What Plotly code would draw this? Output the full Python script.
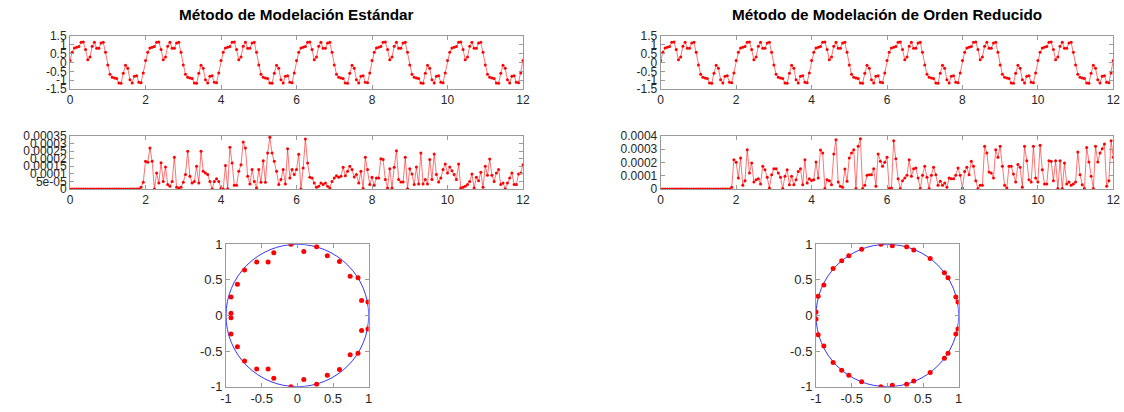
import numpy as np
import plotly.graph_objects as go

# ---------------------------------------------------------------- data
sample_period = 2 / 34          # 34 samples per period of the input wave
n_samples = 205                 # t = 0 ... 12

# one period of the periodic input signal (repeats every 2 s)
wave_period = [0.12, 0.58, 0.82, 0.86, 0.90, 1.14, 1.16, 0.73, 0.16, 0.31,
               0.92, 1.14, 0.80, 0.80, 1.10, 1.14, 0.58,
               -0.14, -0.67, -0.84, -0.88, -0.90, -1.16, -1.18, -0.61, -0.16,
               -0.33, -0.97, -1.16, -0.78, -0.75, -1.12, -1.14, -0.59]

# modelling error, standard method (units of 1e-5)
err_std_e5 = [0.0] * 32 + [
    1.1, 4.4, 18.3, 17.6, 27.0, 18.3, 0.0, 10.6, 4.0, 17.4,
    5.0, 14.5, 2.9, 1.8, 5.0, 21.0, 1.1, 0.7, 1.1, 4.4,
    9.5, 24.9, 8.4, 4.0, 5.0, 15.0, 4.0, 24.9, 11.7, 10.6,
    9.5, 5.0, 0.0, 5.0, 6.8, 5.0, 0.7, 0.0, 15.6, 0.2,
    27.5, 17.2, 2.4, 2.4, 11.7, 16.0, 31.0, 27.0, 8.4, 3.3,
    12.8, 5.0, 0.7, 12.8, 4.4, 18.7, 4.4, 23.8, 34.1, 23.8,
    18.3, 11.7, 2.9, 6.2, 12.8, 3.3, 26.6, 7.3, 12.8, 9.5,
    12.8, 23.0, 0.0, 13.9, 33.0, 17.2, 7.7, 7.3, 4.0, 1.1,
    1.8, 4.0, 2.9, 4.0, 1.8,
    0.7, 5.0, 7.3, 8.8, 7.7, 8.4, 14.3, 8.8, 11.7, 15.0,
    12.8, 7.9, 9.5, 4.0, 11.7, 0.4, 20.9, 12.8, 2.9, 7.7,
    2.4, 7.3, 7.3, 20.0, 19.4, 6.2, 0.7, 13.4, 0.7, 14.3,
    25.3, 6.2, 4.6, 4.6, 20.9, 0.2, 13.4, 9.9, 2.9, 14.5,
    3.3, 23.8, 3.3, 6.2, 3.3, 19.4, 6.2, 23.1, 9.5, 4.6,
    7.3, 12.8, 16.5, 10.6, 14.5, 12.1, 9.5, 6.2, 16.5, 0.7,
    1.1, 1.8, 2.9, 5.0, 9.9, 0.7, 7.7, 5.5, 11.0, 1.1,
    15.0, 9.0, 19.8, 9.0, 5.0, 10.6, 12.8, 2.9, 4.0, 0.2,
    4.0, 7.3, 10.6, 2.9, 2.9, 9.9, 10.6, 16.0]

# modelling error, reduced-order method (units of 1e-5)
err_red_e5 = [0.0] * 32 + [
    1.3, 22.1, 20.1, 8.3, 23.4, 2.8, 6.3, 29.7, 12.1, 19.6,
    5.3, 7.0, 7.8, 3.8, 17.1, 14.6, 8.8, 0.8, 10.8, 15.3,
    15.3, 12.1, 8.8, 0.3, 9.6, 14.6, 3.3, 9.6, 3.3, 7.0,
    13.3, 15.3, 3.3, 22.1, 4.5, 7.8, 6.5, 7.0, 20.4, 8.3,
    29.4, 27.2, 0.3, 7.0, 6.3, 3.3, 26.4, 37.2, 5.3, 2.0,
    1.3, 15.1, 5.8, 23.4, 27.2, 29.7, 0.3, 32.2, 38.0, 0.3,
    2.8, 10.3, 10.8, 10.8, 15.3, 2.0, 26.4, 20.9, 17.1, 20.1,
    23.9, 0.3, 0.8, 36.5, 22.9, 7.8, 0.3, 6.3, 8.3, 10.3,
    22.1, 9.6, 15.3, 15.9, 8.3,
    0.3, 10.3, 17.1, 8.8, 0.3, 10.3, 16.4, 10.8, 2.8, 5.8,
    2.8, 4.5, 1.3, 8.3, 7.8, 7.8, 10.3, 15.9, 10.3, 0.8,
    13.3, 16.4, 10.8, 20.9, 17.1, 6.3, 0.3, 2.8, 2.8, 32.2,
    27.2, 12.8, 12.1, 8.3, 29.7, 23.9, 32.2, 17.1, 2.8, 0.8,
    17.1, 17.1, 11.3, 5.3, 18.4, 16.4, 1.3, 32.2, 21.4, 7.0,
    5.3, 32.2, 8.3, 5.3, 33.0, 14.6, 3.8, 3.8, 21.4, 20.9,
    6.3, 21.4, 0.3, 21.4, 0.3, 19.6, 3.8, 5.3, 2.8, 3.8,
    5.3, 27.9, 10.8, 3.3, 0.3, 31.4, 20.4, 9.6, 0.3, 32.2,
    20.4, 27.2, 30.4, 34.0, 2.0, 6.3, 36.5, 23.9]

# poles, standard method
poles_std_re = [-0.09, 0.09, 0.27, 0.42, 0.59, 0.74, 0.85, 0.90, 0.99,
                -0.33, -0.41, -0.57, -0.74, -0.84, -0.93, -0.93,
                -0.09, 0.09, 0.27, 0.42, 0.59, 0.74, 0.85, 0.90, 0.99,
                -0.33, -0.41, -0.57, -0.74, -0.84, -0.93, -0.93]
poles_std_im = [1.00, 0.90, 0.965, 0.84, 0.76, 0.55, 0.53, 0.21, 0.19,
                0.88, 0.75, 0.75, 0.64, 0.44, 0.26, 0.03,
                -1.00, -0.90, -0.965, -0.84, -0.76, -0.55, -0.53, -0.21, -0.19,
                -0.88, -0.75, -0.75, -0.64, -0.44, -0.26, -0.03]

# poles, reduced-order method
poles_red_re = [-0.09, 0.07, 0.27, 0.37, 0.60, 0.80, 0.85, 0.96, 0.99,
                -0.36, -0.54, -0.64, -0.76, -0.89, -0.97, -1.00,
                -0.09, 0.07, 0.27, 0.37, 0.60, 0.80, 0.85, 0.96, 0.99,
                -0.36, -0.54, -0.64, -0.76, -0.89, -0.97, -1.00]
poles_red_im = [1.00, 0.98, 0.965, 0.92, 0.80, 0.60, 0.53, 0.26, 0.19,
                0.93, 0.84, 0.77, 0.66, 0.43, 0.27, 0.05,
                -1.00, -0.98, -0.965, -0.92, -0.80, -0.60, -0.53, -0.26, -0.19,
                -0.93, -0.84, -0.77, -0.66, -0.43, -0.27, -0.05]

titles = ["Método de Modelación Estándar",
          "Método de Modelación de Orden Reducido"]

# ---------------------------------------------------------------- series
t = np.arange(n_samples) * sample_period
wave = (wave_period * 6 + wave_period[:1])
err_std = np.array(err_std_e5) * 1e-5
err_red = np.array(err_red_e5) * 1e-5

RED = "#ff0000"
LINE_RED = "rgba(255,0,0,0.55)"
FONT = "Liberation Sans, Arial, Helvetica, sans-serif"
AX_COLOR = "#9a9a9a"
TXT = "#262626"

W, H = 1124, 412

fig = go.Figure()


def line_trace(y, ax):
    return go.Scatter(x=t, y=y, mode="lines+markers", xaxis="x" + ax, yaxis="y" + ax,
                      line=dict(color=LINE_RED, width=1),
                      marker=dict(color=RED, size=3), showlegend=False,
                      hoverinfo="x+y")


fig.add_trace(line_trace(wave, ""))
fig.add_trace(line_trace(wave, "2"))
fig.add_trace(line_trace(err_std, "3"))
fig.add_trace(line_trace(err_red, "4"))

for re, im, ax in [(poles_std_re, poles_std_im, "5"), (poles_red_re, poles_red_im, "6")]:
    fig.add_trace(go.Scatter(x=re, y=im, mode="markers", xaxis="x" + ax, yaxis="y" + ax,
                             marker=dict(color=RED, size=5), showlegend=False))


def px_dom_x(a, b):
    return [a / W, b / W]


def px_dom_y(top, bottom):
    return [1 - bottom / H, 1 - top / H]


def axis_style(size):
    return dict(showline=True, linecolor=AX_COLOR, linewidth=1, mirror="ticks",
                ticks="inside", ticklen=4, tickcolor=AX_COLOR, showgrid=False,
                zeroline=False, automargin=False,
                tickfont=dict(family=FONT, size=size, color=TXT))


left_x = px_dom_x(70, 523)
right_x = px_dom_x(660.7, 1113.3)
top_y = px_dom_y(36, 89)
mid_y = px_dom_y(136, 189)
circ_y = px_dom_y(244.3, 386.7)

time_ticks = [0, 2, 4, 6, 8, 10, 12]
wave_ticks = [-1.5, -1, -0.5, 0, 0.5, 1, 1.5]
wave_labels = ["-1.5", "-1", "-0.5", "0", "0.5", "1", "1.5"]
err_std_ticks = [0, 5e-5, 1e-4, 1.5e-4, 2e-4, 2.5e-4, 3e-4, 3.5e-4]
err_std_labels = ["0", "5e-05", "0.0001", "0.00015", "0.0002", "0.00025", "0.0003", "0.00035"]
err_red_ticks = [0, 1e-4, 2e-4, 3e-4, 4e-4]
err_red_labels = ["0", "0.0001", "0.0002", "0.0003", "0.0004"]
circ_ticks = [-1, -0.5, 0, 0.5, 1]
circ_labels = ["-1", "-0.5", "0", "0.5", "1"]

layout = dict(width=W, height=H, margin=dict(l=0, r=0, t=0, b=0),
              paper_bgcolor="white", plot_bgcolor="white")

specs = [
    ("", left_x, top_y, [0, 12], time_ticks, [str(v) for v in time_ticks],
     [-1.5, 1.5], wave_ticks, wave_labels, 12),
    ("2", right_x, top_y, [0, 12], time_ticks, [str(v) for v in time_ticks],
     [-1.5, 1.5], wave_ticks, wave_labels, 12),
    ("3", left_x, mid_y, [0, 12], time_ticks, [str(v) for v in time_ticks],
     [0, 3.5e-4], err_std_ticks, err_std_labels, 12),
    ("4", right_x, mid_y, [0, 12], time_ticks, [str(v) for v in time_ticks],
     [0, 4e-4], err_red_ticks, err_red_labels, 12),
    ("5", px_dom_x(226, 368.7), circ_y, [-1, 1], circ_ticks, circ_labels,
     [-1, 1], circ_ticks, circ_labels, 13),
    ("6", px_dom_x(816, 958.7), circ_y, [-1, 1], circ_ticks, circ_labels,
     [-1, 1], circ_ticks, circ_labels, 13),
]

for ax, xd, yd, xr, xt, xl, yr, yt, yl, fs in specs:
    xa = axis_style(fs)
    xa.update(domain=xd, range=xr, tickvals=xt, ticktext=xl, anchor="y" + ax)
    ya = axis_style(fs)
    ya.update(domain=yd, range=yr, tickvals=yt, ticktext=yl, anchor="x" + ax)
    layout["xaxis" + ax] = xa
    layout["yaxis" + ax] = ya

fig.update_layout(**layout)

# unit circles
for ax in ["5", "6"]:
    fig.add_shape(type="circle", xref="x" + ax, yref="y" + ax, x0=-1, y0=-1, x1=1, y1=1,
                  line=dict(color="rgba(0,0,255,0.8)", width=1), layer="below")

# titles above the top row
for title, cx in zip(titles, [296.5, 887]):
    fig.add_annotation(text="<b>%s</b>" % title, x=cx / W, y=1 - 15 / H,
                       xref="paper", yref="paper", xanchor="center", yanchor="middle",
                       showarrow=False, font=dict(family=FONT, size=15.3, color="#000000"))

fig.write_html("out.html")
